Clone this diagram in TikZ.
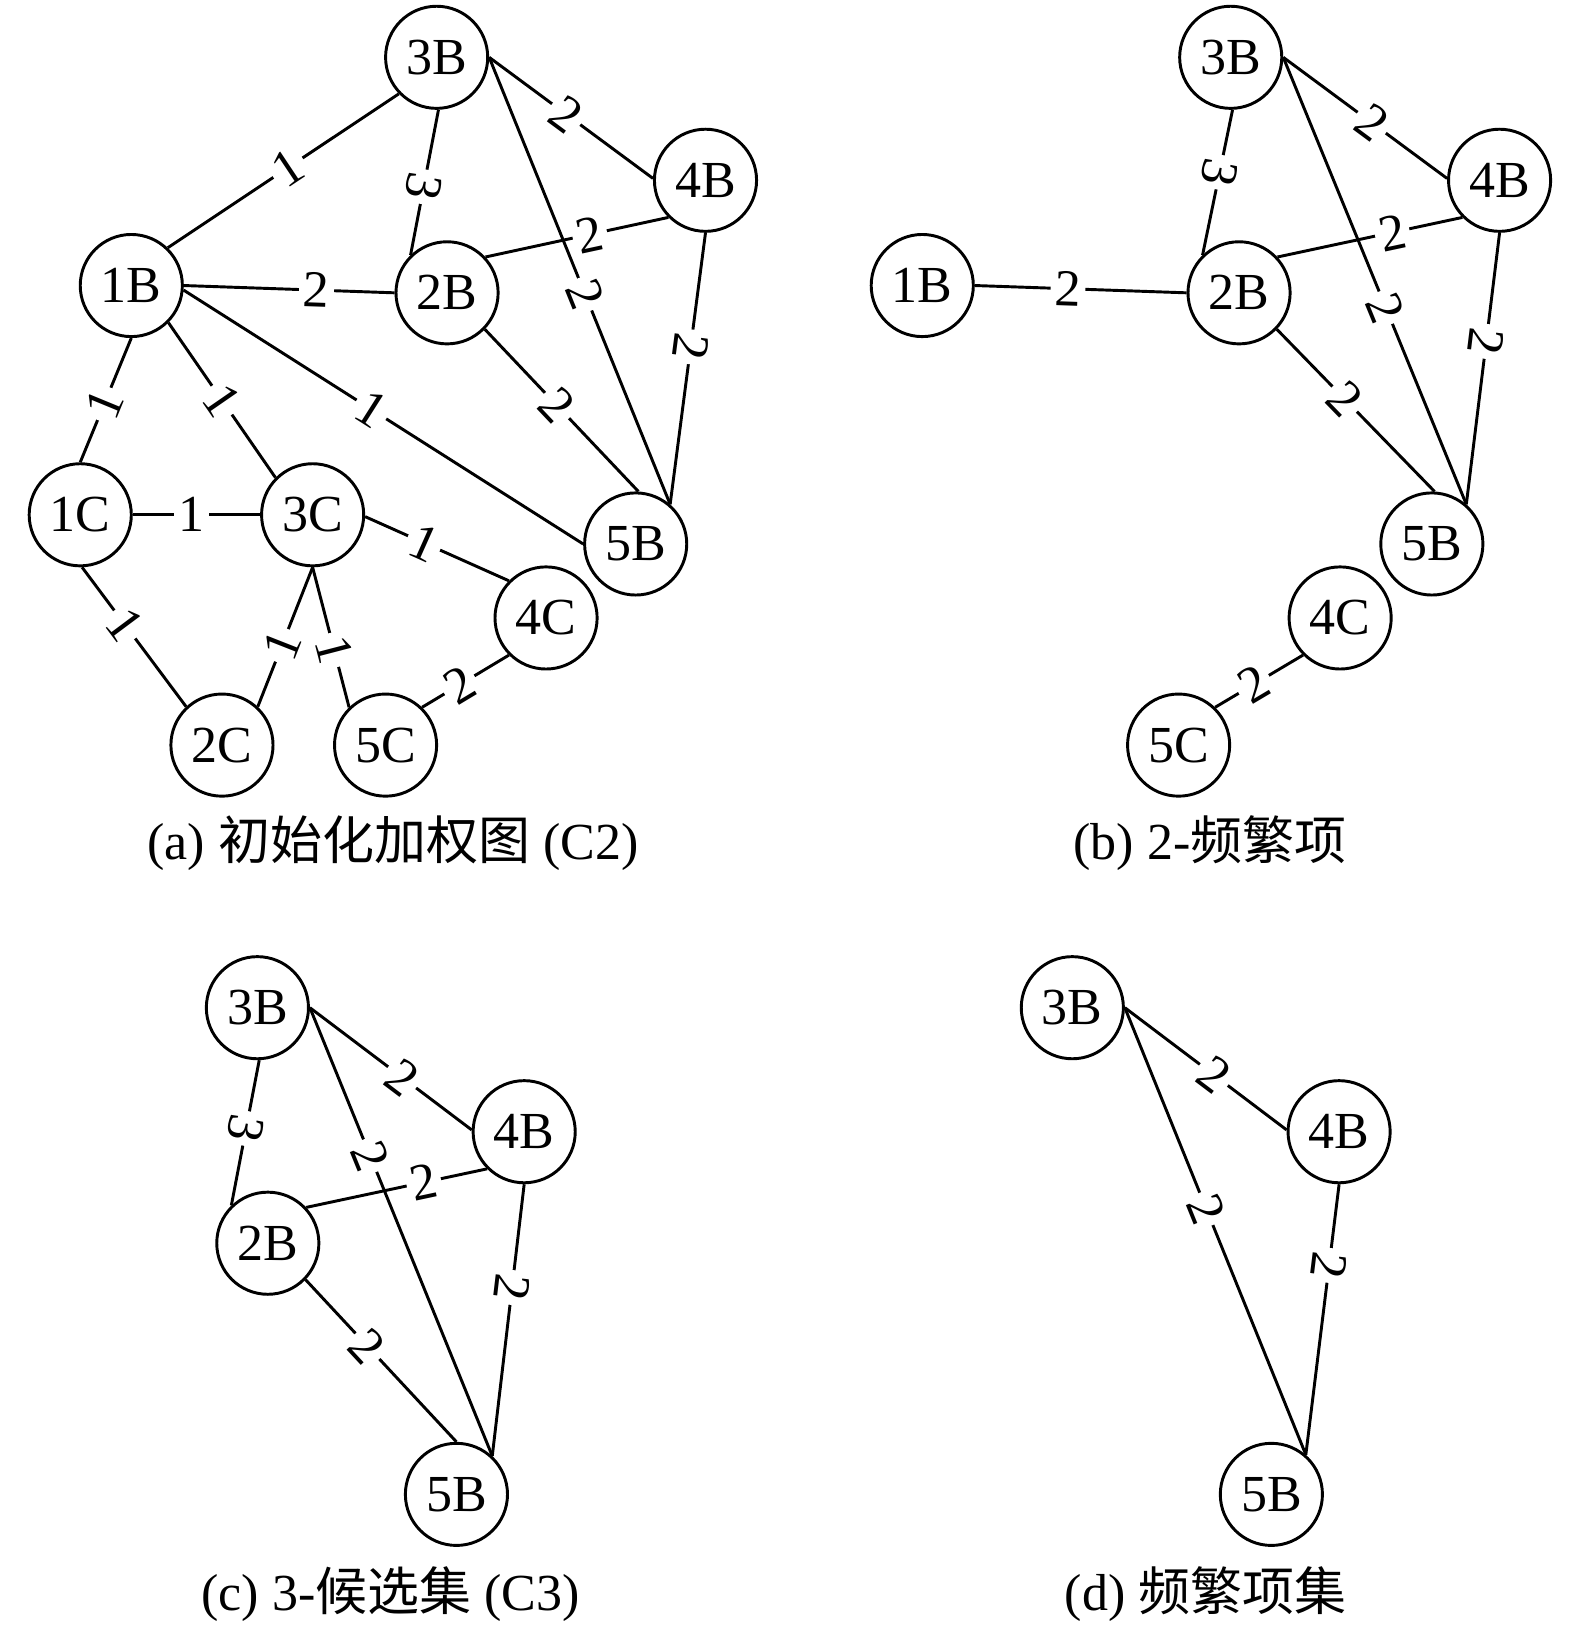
\documentclass[tikz,border=0pt]{standalone}
\usepackage{fontspec}
\setmainfont{Liberation Serif}
\newfontfamily\cjk{Noto Sans CJK SC}
\usetikzlibrary{arrows}
\tikzset{vx/.append style={minimum size=0.98cm, draw,circle,inner sep=0pt,font=\fontsize{14.2}{17}\selectfont}}
\tikzset{wt/.append style={fill=white,inner sep=1.2pt,sloped,font=\fontsize{14.2}{17}\selectfont}}
\tikzset{flip/.append style={allow upside down}}
\tikzset{capt/.append style={font=\fontsize{14.2}{17}\selectfont}}

\begin{document}
\begin{tikzpicture}[line width=0.8pt]
                \useasboundingbox (0,0) rectangle (15.11,-15.68);
                % (a)
                \node[vx] (a3B) at (4.19,-0.55) {3B};
                \node[vx] (a4B) at (6.77,-1.73) {4B};
                \node[vx] (a1B) at (1.26,-2.74) {1B};
                \node[vx] (a2B) at (4.29,-2.81) {2B};
                \node[vx] (a1C) at (0.77,-4.94) {1C};
                \node[vx] (a3C) at (3.00,-4.94) {3C};
                \node[vx] (a5B) at (6.10,-5.22) {5B};
                \node[vx] (a4C) at (5.24,-5.93) {4C};
                \node[vx] (a2C) at (2.13,-7.15) {2C};
                \node[vx] (a5C) at (3.70,-7.15) {5C};
                \path (a1B.46) edge node[wt,pos=.52]{1} (a3B.224);
                \path (a3B.272) edge node[wt,flip,pos=.53]{3} (a2B.134);
                \path (a3B.0) edge node[wt,pos=.47]{2} (a4B.178);
                \path (a3B.0) edge node[wt,pos=.53]{2} (a5B.49);
                \path (a2B.43) edge node[wt,pos=.57]{2} (a4B.225);
                \path (a4B.270) edge node[wt,flip,pos=.42]{2} (a5B.49);
                \path (a1B.0) edge node[wt,pos=.63]{2} (a2B.180);
                \path (a1B.355) edge node[wt,pos=.47]{1} (a5B.180);
                \path (a2B.316) edge node[wt,pos=.47]{2} (a5B.87);
                \path (a1B.270) edge node[wt,pos=.53]{1} (a1C.90);
                \path (a1B.315) edge node[wt,pos=.5]{1} (a3C.135);
                \path (a1C.0) edge node[wt,pos=.46]{1} (a3C.180);
                \path (a1C.272) edge node[wt,pos=.41]{1} (a2C.133);
                \path (a3C.270) edge node[wt,pos=.56]{1} (a2C.47);
                \path (a3C.270) edge node[wt,pos=.59]{1} (a5C.134);
                \path (a3C.358) edge node[wt,pos=.41]{1} (a4C.135);
                \path (a4C.225) edge node[wt,pos=.57]{2} (a5C.46);
                \node[capt] (capa) at (3.77,-8.09) {(a) {\cjk 初始化加权图} (C2)};
                % (b)
                \begin{scope}[shift={(7.62,0)}]
                \node[vx] (b3B) at (4.19,-0.55) {3B};
                \node[vx] (b4B) at (6.77,-1.73) {4B};
                \node[vx] (b1B) at (1.23,-2.74) {1B};
                \node[vx] (b2B) at (4.27,-2.81) {2B};
                \node[vx] (b5B) at (6.12,-5.22) {5B};
                \node[vx] (b4C) at (5.24,-5.93) {4C};
                \node[vx] (b5C) at (3.69,-7.15) {5C};
                \path (b1B.0) edge node[wt,pos=.44]{2} (b2B.180);
                \path (b3B.272) edge node[wt,flip,pos=.43]{3} (b2B.134);
                \path (b3B.0) edge node[wt,pos=.54]{2} (b4B.178);
                \path (b3B.0) edge node[wt,pos=.56]{2} (b5B.49);
                \path (b2B.43) edge node[wt,pos=.62]{2} (b4B.225);
                \path (b4B.270) edge node[wt,flip,pos=.40]{2} (b5B.49);
                \path (b2B.316) edge node[wt,pos=.43]{2} (b5B.87);
                \path (b4C.225) edge node[wt,pos=.56]{2} (b5C.46);
                \node[capt] (capb) at (3.99,-8.09) {(b) 2-{\cjk 频繁项}};
                \end{scope}
                % (c)
                \begin{scope}[shift={(-1.72,-9.12)}]
                \node[vx] (c3B) at (4.19,-0.55) {3B};
                \node[vx] (c4B) at (6.75,-1.74) {4B};
                \node[vx] (c2B) at (4.29,-2.81) {2B};
                \node[vx] (c5B) at (6.10,-5.22) {5B};
                \path (c3B.272) edge node[wt,flip,pos=.47]{3} (c2B.134);
                \path (c3B.0) edge node[wt,pos=.57]{2} (c4B.178);
                \path (c3B.0) edge node[wt,pos=.33]{2} (c5B.47);
                \path (c2B.43) edge node[wt,pos=.65]{2} (c4B.225);
                \path (c4B.270) edge node[wt,flip,pos=.38]{2} (c5B.47);
                \path (c2B.316) edge node[wt,pos=.41]{2} (c5B.90);
                \node[capt] (capc) at (5.47,-6.18) {(c) 3-{\cjk 候选集} (C3)};
                \end{scope}
                % (d)
                \begin{scope}[shift={(6.10,-9.12)}]
                \node[vx] (d3B) at (4.19,-0.55) {3B};
                \node[vx] (d4B) at (6.75,-1.74) {4B};
                \node[vx] (d5B) at (6.10,-5.22) {5B};
                \path (d3B.0) edge node[wt,pos=.55]{2} (d4B.178);
                \path (d3B.0) edge node[wt,pos=.45]{2} (d5B.49);
                \path (d4B.270) edge node[wt,flip,pos=.30]{2} (d5B.49);
                \node[capt] (capd) at (5.47,-6.18) {(d) {\cjk 频繁项集}};
                \end{scope}
            \end{tikzpicture}
\end{document}
